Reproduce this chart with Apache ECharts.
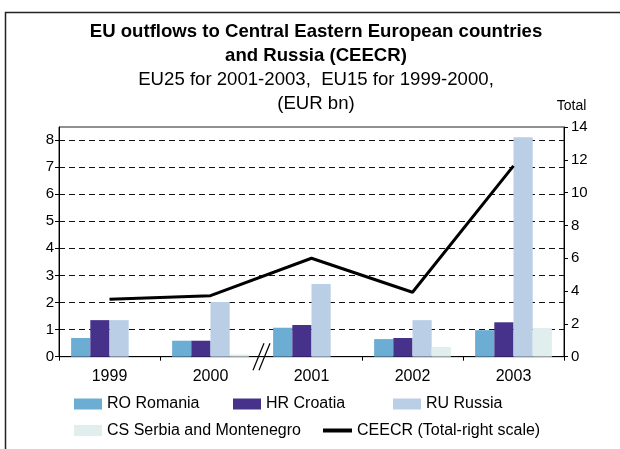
<!DOCTYPE html>
<html>
<head>
<meta charset="utf-8">
<script src="https://cdn.jsdelivr.net/npm/echarts@6/dist/echarts.min.js"></script>
<style>
html,body{margin:0;padding:0;background:#fff;}
#chart{width:620px;height:449px;}
</style>
</head>
<body>
<div id="chart"></div>
<script>
// ---- data ----
var years = ['1999', '2000', '2001', '2002', '2003'];
var romania = [0.69, 0.59, 1.07, 0.65, 0.98];
var croatia = [1.35, 0.59, 1.17, 0.69, 1.27];
var russia = [1.35, 2.02, 2.68, 1.35, 8.10];
var serbia = [0, 0.08, 0, 0.36, 1.06];
var totalCEECR = [3.50, 3.72, 6.00, 3.93, 11.63];
var leftTicks = [0, 1, 2, 3, 4, 5, 6, 7, 8];
var rightTicks = [0, 2, 4, 6, 8, 10, 12, 14];

var FONT = '"Liberation Sans", Arial, sans-serif';
var chart = echarts.init(document.getElementById('chart'), null, {renderer: 'canvas'});

function legendItem(name, left, top, icon, w, h) {
  return {
    data: [name], left: left, top: top, padding: 0, orient: 'horizontal',
    icon: icon, itemWidth: w, itemHeight: h, selectedMode: false,
    textStyle: {fontFamily: FONT, fontSize: 16, color: '#000'}
  };
}

var option = {
  animation: false,
  backgroundColor: '#fff',
  title: {
    text: 'EU outflows to Central Eastern European countries\nand Russia (CEECR)',
    subtext: 'EU25 for 2001-2003,  EU15 for 1999-2000,\n(EUR bn)',
    left: 316, top: 20, padding: 0, itemGap: 0, textAlign: 'center',
    textStyle: {fontFamily: FONT, fontSize: 18.6, fontWeight: 'bold', color: '#000', lineHeight: 24},
    subtextStyle: {fontFamily: FONT, fontSize: 18.6, color: '#000', lineHeight: 24}
  },
  legend: [
    legendItem('RO Romania', 74, 396, 'rect', 28, 11),
    legendItem('HR Croatia', 233, 396, 'rect', 28, 11),
    legendItem('RU Russia', 393, 396, 'rect', 28, 11),
    legendItem('CS Serbia and Montenegro', 74, 422.5, 'rect', 28, 11),
    legendItem('CEECR (Total-right scale)', 323, 422.5, 'rect', 29, 4)
  ],
  grid: {
    left: 59, right: 56, top: 127, bottom: 92.3,
    show: true, borderColor: '#222', borderWidth: 1, backgroundColor: 'transparent'
  },
  xAxis: {
    type: 'category', data: years, boundaryGap: true,
    axisLine: {lineStyle: {color: '#000', width: 1}},
    axisTick: {show: true, length: 4, lineStyle: {color: '#000'},
      interval: function (idx) { return idx !== 2; }},
    axisLabel: {fontFamily: FONT, fontSize: 16, color: '#000', margin: 12}
  },
  yAxis: [
    {
      type: 'value', min: 0, max: 8.48, interval: 1, position: 'left',
      axisLine: {show: true, lineStyle: {color: '#000', width: 1}},
      axisTick: {show: true, length: 4, customValues: leftTicks, lineStyle: {color: '#000'}},
      axisLabel: {fontFamily: FONT, fontSize: 15, color: '#000', margin: 5, customValues: leftTicks},
      splitLine: {show: true, customValues: leftTicks, lineStyle: {color: '#111', type: [6, 4], width: 1.2}}
    },
    {
      type: 'value', min: 0, max: 14, interval: 2, position: 'right',
      name: 'Total', nameLocation: 'end', nameGap: 14,
      nameTextStyle: {fontFamily: FONT, fontSize: 14, color: '#000', align: 'center', padding: [0, 0, 0, 15]},
      axisLine: {show: true, lineStyle: {color: '#000', width: 1}},
      axisTick: {show: true, length: 4, lineStyle: {color: '#000'}},
      axisLabel: {fontFamily: FONT, fontSize: 15, color: '#000', margin: 7},
      splitLine: {show: false}
    }
  ],
  series: [
    {name: 'RO Romania', type: 'bar', data: romania, barGap: '0%', barCategoryGap: '24%',
      itemStyle: {color: '#6badd3'}},
    {name: 'HR Croatia', type: 'bar', data: croatia, itemStyle: {color: '#46328a'}},
    {name: 'RU Russia', type: 'bar', data: russia, itemStyle: {color: '#bacfe6'}},
    {name: 'CS Serbia and Montenegro', type: 'bar', data: serbia, itemStyle: {color: '#e1eeee'}},
    {name: 'CEECR (Total-right scale)', type: 'line', yAxisIndex: 1, data: totalCEECR,
      symbol: 'none', lineStyle: {color: '#000', width: 3}, itemStyle: {color: '#000'}, z: 5}
  ]
};
chart.setOption(option);

// decorations: outer frame and axis break marks
var p1 = chart.convertToPixel({xAxisIndex: 0}, years[1]);
var p2 = chart.convertToPixel({xAxisIndex: 0}, years[2]);
var bx = (p1 + p2) / 2;
var by = chart.convertToPixel({yAxisIndex: 0}, 0);
chart.setOption({
  graphic: [
    {type: 'polyline', shape: {points: [[5.5, 449], [5.5, 12.5], [620, 12.5]]},
      style: {stroke: '#222', lineWidth: 1.5, fill: null}, z: 100},
    {type: 'line', shape: {x1: bx - 8, y1: by + 13.5, x2: bx + 3, y2: by - 13.5},
      style: {stroke: '#000', lineWidth: 1.2}, z: 100},
    {type: 'line', shape: {x1: bx - 2, y1: by + 13.5, x2: bx + 9, y2: by - 13.5},
      style: {stroke: '#000', lineWidth: 1.2}, z: 100}
  ]
});
</script>
</body>
</html>
